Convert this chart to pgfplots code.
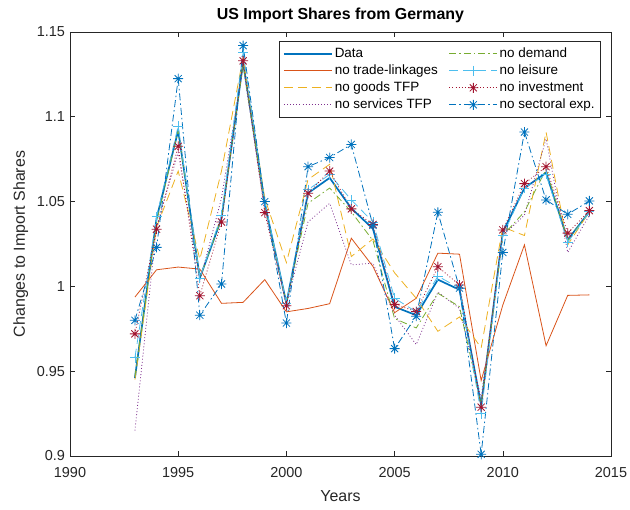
\documentclass[border=0pt]{standalone}
\usepackage{fontspec}
\setmainfont{Liberation Sans}
\usepackage{pgfplots}
\usepackage{pgfplotstable}
\pgfplotsset{compat=1.18}
\definecolor{mblue}{RGB}{0,114,189}
\definecolor{morange}{RGB}{217,83,25}
\definecolor{myellow}{RGB}{237,177,32}
\definecolor{mpurple}{RGB}{126,47,142}
\definecolor{mgreen}{RGB}{119,172,48}
\definecolor{mcyan}{RGB}{77,190,238}
\definecolor{mred}{RGB}{162,20,47}
\definecolor{axgray}{RGB}{38,38,38}

\pgfdeclareplotmark{mstar}{%
  \pgfpathmoveto{\pgfqpoint{-\pgfplotmarksize}{0pt}}%
  \pgfpathlineto{\pgfqpoint{\pgfplotmarksize}{0pt}}%
  \pgfpathmoveto{\pgfqpoint{0pt}{-\pgfplotmarksize}}%
  \pgfpathlineto{\pgfqpoint{0pt}{\pgfplotmarksize}}%
  \pgfpathmoveto{\pgfqpoint{-0.7071\pgfplotmarksize}{-0.7071\pgfplotmarksize}}%
  \pgfpathlineto{\pgfqpoint{0.7071\pgfplotmarksize}{0.7071\pgfplotmarksize}}%
  \pgfpathmoveto{\pgfqpoint{-0.7071\pgfplotmarksize}{0.7071\pgfplotmarksize}}%
  \pgfpathlineto{\pgfqpoint{0.7071\pgfplotmarksize}{-0.7071\pgfplotmarksize}}%
  \pgfusepathqstroke}

\pgfplotstableread{
year data   trade  goods  serv   demand leis   inv    sect
1993 0.946  0.9937 0.945  0.915  0.947  0.958  0.972  0.980
1994 1.040  1.0098 1.035  1.035  1.038  1.041  1.0337 1.023
1995 1.092  1.0114 1.068  1.079  1.092  1.0945 1.0826 1.1225
1996 1.005  1.0102 1.016  1.003  1.005  1.005  0.9945 0.983
1997 1.040  0.990  1.068  1.052  1.040  1.042  1.038  1.0014
1998 1.132  0.9906 1.135  1.130  1.131  1.138  1.133  1.142
1999 1.049  1.004  1.052  1.045  1.048  1.050  1.0435 1.050
2000 0.990  0.985  1.014  0.990  0.990  0.990  0.9886 0.9784
2001 1.055  0.987  1.063  1.038  1.049  1.057  1.0549 1.0706
2002 1.064  0.9898 1.072  1.049  1.058  1.066  1.068  1.076
2003 1.046  1.0284 1.0176 1.0127 1.044  1.051  1.0457 1.0837
2004 1.034  1.0118 1.028  1.0137 1.027  1.038  1.0365 1.036
2005 0.988  0.9845 1.008  0.983  0.981  0.993  0.9894 0.9633
2006 0.983  0.993  0.993  0.9657 0.9755 0.985  0.9852 0.9824
2007 1.004  1.0196 0.9735 0.9966 0.996  1.006  1.0116 1.0437
2008 0.998  1.019  0.982  0.987  0.988  0.999  1.0008 0.999
2009 0.930  0.9445 0.9637 0.934  0.930  0.925  0.9288 0.901
2010 1.032  0.989  1.035  1.030  1.030  1.030  1.0333 1.020
2011 1.058  1.0245 1.030  1.042  1.044  1.058  1.0606 1.091
2012 1.067  0.965  1.091  1.087  1.069  1.066  1.0706 1.051
2013 1.0275 0.9947 1.0245 1.020  1.027  1.026  1.0314 1.0425
2014 1.044  0.995  1.044  1.042  1.044  1.044  1.0447 1.0504
}\tbl

\begin{document}
\begin{tikzpicture}
\path[use as bounding box] (-70bp,-54bp) rectangle (560bp,456bp);
\begin{axis}[
  at={(0,0)}, anchor=south west,
  scale only axis, width=541bp, height=424bp,
  xmin=1990, xmax=2015, ymin=0.9, ymax=1.15,
  xtick={1990,1995,2000,2005,2010,2015},
  ytick={0.9,0.95,1,1.05,1.1,1.15},
  yticklabels={0.9,0.95,1,1.05,1.1,1.15},
  tick align=inside, tick pos=both,
  major tick length=5bp,
  axis line style={color=axgray, line width=0.6bp},
  every tick/.style={color=axgray, line width=0.6bp},
  /pgf/number format/1000 sep={},
  /pgf/number format/assume math mode=true,
  ticklabel style={font=\fontsize{14.5}{17}\selectfont, color=axgray},
  xticklabel style={yshift=-8bp},
  yticklabel style={xshift=-1.5bp},
  xlabel={Years}, ylabel={Changes to Import Shares},
  label style={font=\fontsize{16}{19}\selectfont, color=axgray},
  xlabel style={at={(axis description cs:0.5,0)}, anchor=north, yshift=-31.5bp},
  ylabel style={at={(axis description cs:-0.071,0.5)}, anchor=south},
  title={US Import Shares from Germany},
  title style={font=\bfseries\fontsize{16}{19}\selectfont, at={(axis description cs:0.5,1)}, anchor=south, yshift=0bp},
  legend style={at={(1,1)}, anchor=north east, xshift=-10bp, yshift=-9bp,
    font=\fontsize{13.5}{16}\selectfont, draw=axgray, line width=0.6bp,
    inner xsep=4bp, inner ysep=4bp,
    nodes={inner sep=2bp, text height=10bp, text depth=3bp},
    /tikz/every even column/.append style={column sep=9bp}},
  legend cell align=left, legend columns=2,
  legend image code/.code={\draw[mark repeat=2,mark phase=2,#1] plot coordinates {(0bp,0bp) (24bp,0bp) (48bp,0bp)};},
  every axis plot/.append style={line width=0.8bp},
  mark size=5bp,
]
\addplot[mblue, line width=1.7bp, forget plot] table[x=year,y=data] {\tbl};
\addplot[morange, forget plot] table[x=year,y=trade] {\tbl};
\addplot[myellow, dash pattern=on 9bp off 5bp, forget plot] table[x=year,y=goods] {\tbl};
\addplot[mpurple, dash pattern=on 0.9bp off 2.2bp, forget plot] table[x=year,y=serv] {\tbl};
\addplot[mgreen, dash pattern=on 7bp off 3bp on 1.5bp off 3bp, forget plot] table[x=year,y=demand] {\tbl};
\addplot[mcyan, dash pattern=on 9bp off 5bp, mark=+, mark options={solid}, forget plot] table[x=year,y=leis] {\tbl};
\addplot[mred, dash pattern=on 0.9bp off 2.2bp, mark=mstar, mark options={solid}, forget plot] table[x=year,y=inv] {\tbl};
\addplot[mblue, dash pattern=on 7bp off 3bp on 1.5bp off 3bp, mark=mstar, mark options={solid}, forget plot] table[x=year,y=sect] {\tbl};

\addlegendimage{mblue, line width=1.7bp}
\addlegendentry{Data}
\addlegendimage{mgreen, line width=0.8bp, dash pattern=on 7bp off 3bp on 1.5bp off 3bp}
\addlegendentry{no demand}
\addlegendimage{morange, line width=0.8bp}
\addlegendentry{no trade-linkages}
\addlegendimage{mcyan, line width=0.8bp, dash pattern=on 9bp off 5bp, mark=+, mark options={solid}}
\addlegendentry{no leisure}
\addlegendimage{myellow, line width=0.8bp, dash pattern=on 9bp off 5bp}
\addlegendentry{no goods TFP}
\addlegendimage{mred, line width=0.8bp, dash pattern=on 0.9bp off 2.2bp, mark=mstar, mark options={solid}}
\addlegendentry{no investment}
\addlegendimage{mpurple, line width=0.8bp, dash pattern=on 0.9bp off 2.2bp}
\addlegendentry{no services TFP}
\addlegendimage{mblue, line width=0.8bp, dash pattern=on 7bp off 3bp on 1.5bp off 3bp, mark=mstar, mark options={solid}}
\addlegendentry{no sectoral exp.}
\end{axis}
\end{tikzpicture}
\end{document}
